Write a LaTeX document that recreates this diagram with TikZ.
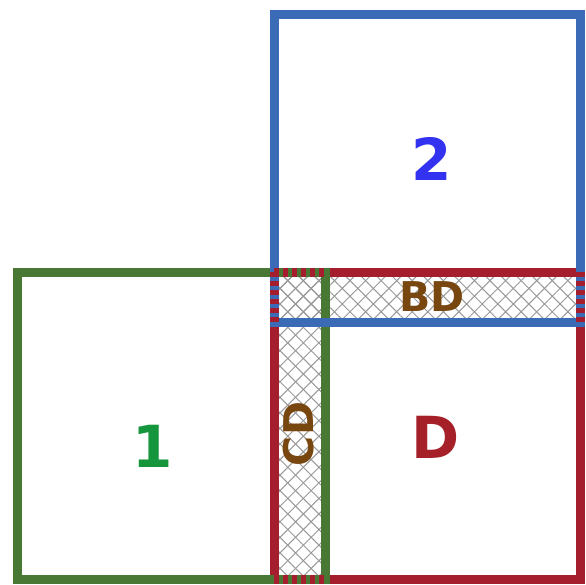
\documentclass[tikz,border=0pt]{standalone}
\usepackage{fontspec}
\usetikzlibrary{patterns.meta}
\newfontfamily\boxfont{DejaVu Sans}
\definecolor{edgegreen}{RGB}{72,120,52}
\definecolor{edgeblue}{RGB}{59,106,182}
\definecolor{edgered}{RGB}{165,30,45}
\definecolor{txtgreen}{RGB}{22,150,60}
\definecolor{txtblue}{RGB}{50,50,240}
\definecolor{txtred}{RGB}{165,32,40}
\definecolor{txtbrown}{RGB}{120,70,15}
\tikzset{
  sqedge/.style={line width=9pt,line join=miter},
  hatchfill/.style={pattern={Lines[angle=45,distance=11pt,line width=1pt]},pattern color=gray!80,
    postaction={pattern={Lines[angle=-45,distance=11pt,line width=1pt]},pattern color=gray!80}},
  bigtag/.style={font=\boxfont\bfseries\fontsize{58}{58}\selectfont},
  striptag/.style={font=\boxfont\bfseries\fontsize{41}{41}\selectfont,text=txtbrown},
  stripe/.style={line width=9pt,dash pattern=on 5pt off 4pt}
}
\begin{document}
\begin{tikzpicture}[x=1pt,y=-1pt]
\useasboundingbox[fill=white] (0,0) rectangle (586,584);
\coordinate (g0) at (17,272);
\coordinate (g1) at (325,579);
\coordinate (b0) at (274,14);
\coordinate (b1) at (580,322);
\coordinate (r0) at (274,272);
\coordinate (r1) at (580,579);
% overlaps
\fill[hatchfill] (r0) rectangle (b1);
\fill[hatchfill] (r0) rectangle (g1);
% squares
\draw[sqedge,edgered] (r0) rectangle (r1);
\draw[sqedge,edgegreen] (g0) rectangle (g1);
\draw[sqedge,edgeblue] (b0) rectangle (b1);
% shared edges
\draw[stripe,edgered] (r0) -- (r0 -| g1);
\draw[stripe,edgered] (r0 |- g1) -- (g1);
\draw[stripe,edgered] (r0) -- (r0 |- b1);
\draw[stripe,edgered] (r0 -| b1) -- (b1);
% labels
\node[bigtag,text=txtgreen] (one) at (153,446) {1};
\node[bigtag,text=txtblue] (two) at (432,159) {2};
\node[bigtag,text=txtred] (dee) at (436,437) {D};
\node[striptag] (bd) at (432,297) {BD};
\node[striptag,rotate=90] (cd) at (299,434) {CD};
\end{tikzpicture}
\end{document}
